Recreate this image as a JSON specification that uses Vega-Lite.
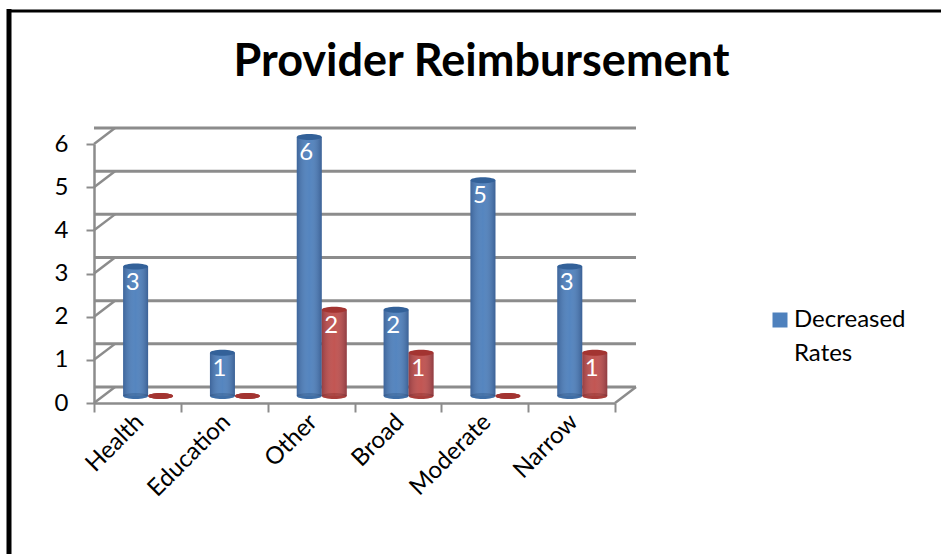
{
"$schema":"https://vega.github.io/schema/vega-lite/v6.json",
"autosize":{"type":"none"},
"padding":{"left":94,"top":144,"right":326,"bottom":151},
"width":521,"height":259,
"background":"white",
"title":{"text":"Provider Reimbursement","font":"Lato","fontSize":45,"fontWeight":"bold","color":"black","anchor":"middle","dx":127,"offset":-78},
"config":{"view":{"stroke":null},"style":{"guide-label":{"lineHeight":34}}},
"datasets":{
"bars":[
{"cat":"Health","series":"Decreased Rates","value":3},{"cat":"Health","series":"Increased Rates","value":0},
{"cat":"Education","series":"Decreased Rates","value":1},{"cat":"Education","series":"Increased Rates","value":0},
{"cat":"Other","series":"Decreased Rates","value":6},{"cat":"Other","series":"Increased Rates","value":2},
{"cat":"Broad","series":"Decreased Rates","value":2},{"cat":"Broad","series":"Increased Rates","value":1},
{"cat":"Moderate","series":"Decreased Rates","value":5},{"cat":"Moderate","series":"Increased Rates","value":0},
{"cat":"Narrow","series":"Decreased Rates","value":3},{"cat":"Narrow","series":"Increased Rates","value":1}],
"ticks":[{"tick":0},{"tick":1},{"tick":2},{"tick":3},{"tick":4},{"tick":5},{"tick":6}],
"frame":[{"part":"frame"}]
},
"encoding":{},
"layer":[
{"data":{"name":"ticks"},"mark":{"type":"rule","color":"#8c8c8c","strokeWidth":3,"xOffset":21,"yOffset":-16,"x2Offset":21,"y2Offset":-16},
 "encoding":{"y":{"field":"tick","type":"quantitative","scale":{"domain":[0,6],"nice":false},"axis":{"values":[0,1,2,3,4,5,6],"title":null,"grid":false,"domainColor":"#8c8c8c","domainWidth":2.5,"tickColor":"#8c8c8c","tickWidth":2,"tickSize":8,"labelFont":"Lato","labelFontSize":24,"labelColor":"black","labelPadding":18,"format":"d"}}}},
{"data":{"name":"ticks"},"mark":{"type":"point","shape":"M0,0L1,-0.76","size":1764,"filled":false,"stroke":"#8c8c8c","strokeWidth":2.5,"opacity":1},
 "encoding":{"x":{"datum":"Health","bandPosition":0},"y":{"field":"tick","type":"quantitative"}}},
{"data":{"values":[{"tick":0}]},"mark":{"type":"point","shape":"M0,0L1,-0.76","size":1764,"filled":false,"stroke":"#8c8c8c","strokeWidth":2.5,"opacity":1},
 "encoding":{"x":{"datum":"Narrow","bandPosition":1},"y":{"field":"tick","type":"quantitative"}}},
{"data":{"name":"bars"},"mark":{"type":"bar","yOffset":-7,"y2Offset":-7},
 "encoding":{
  "x":{"field":"cat","type":"nominal","sort":null,
   "scale":{"domain":["Health","Education","Other","Broad","Moderate","Narrow"],"paddingInner":0,"paddingOuter":0},
   "axis":{"title":null,"tickBand":"extent","labelAngle":-45,"labelAlign":"right","labelBaseline":"middle","labelFont":"Lato","labelFontSize":24,"labelColor":"black","labelPadding":6,"labelOffset":2,"domainColor":"#8c8c8c","domainWidth":2.5,"tickColor":"#8c8c8c","tickWidth":2,"tickSize":9}},
  "xOffset":{"field":"series","scale":{"domain":["Decreased Rates","Increased Rates"],"paddingOuter":0.737,"paddingInner":0,"align":0.79}},
  "y":{"field":"value","type":"quantitative"},
  "color":{"field":"series","type":"nominal","scale":{"domain":["Decreased Rates","Increased Rates"],"range":["#4f81bd","#c0504d"]},
   "legend":{"title":null,"orient":"none","legendX":674,"legendY":164,"values":["Decreased Rates"],"symbolType":"square","symbolSize":225,"symbolStrokeWidth":0,"labelOffset":2,"labelFont":"Lato","labelFontSize":24,"labelColor":"black","labelLimit":200,"labelExpr":"split(datum.label,' ')"}}}},
{"data":{"name":"bars"},"mark":{"type":"point","shape":"M-1,0A1,0.24 0 1,0 1,0A1,0.24 0 1,0 -1,0Z","size":625,"filled":true,"opacity":1,"yOffset":-7},
 "encoding":{"x":{"field":"cat","type":"nominal"},"xOffset":{"field":"series"},"y":{"datum":0,"type":"quantitative"},"color":{"field":"series","type":"nominal","scale":{"domain":["Decreased Rates","Increased Rates"],"range":["#3f6ea6","#a83e3b"]},"legend":null}}},
{"data":{"name":"bars"},"mark":{"type":"bar","yOffset":-7,"y2Offset":-7,"fill":{"x1":0,"x2":1,"y1":0,"y2":0,"gradient":"linear","stops":[{"offset":0,"color":"rgba(0,0,30,0.22)"},{"offset":0.5,"color":"rgba(255,255,255,0.03)"},{"offset":1,"color":"rgba(0,0,30,0.25)"}]}},
 "encoding":{"x":{"field":"cat","type":"nominal"},"xOffset":{"field":"series"},"y":{"field":"value","type":"quantitative"}}},
{"data":{"name":"bars"},"mark":{"type":"point","shape":"M-1,0A1,0.24 0 1,0 1,0A1,0.24 0 1,0 -1,0Z","size":625,"filled":true,"opacity":1,"yOffset":-7},
 "encoding":{"x":{"field":"cat","type":"nominal"},"xOffset":{"field":"series"},"y":{"field":"value","type":"quantitative"},
  "color":{"field":"series","type":"nominal","scale":{"domain":["Decreased Rates","Increased Rates"],"range":["#336199","#a33431"]},"legend":null}}},
{"data":{"name":"bars"},"transform":[{"filter":"datum.value>0"}],"mark":{"type":"text","color":"white","font":"Lato","fontSize":24,"yOffset":9,"dx":-3},
 "encoding":{"x":{"field":"cat","type":"nominal"},"xOffset":{"field":"series"},"y":{"field":"value","type":"quantitative"},"text":{"field":"value","type":"quantitative"}}},
{"data":{"name":"frame"},"mark":{"type":"rule","color":"black","strokeWidth":5,"clip":false},"encoding":{"x":{"value":-85},"y":{"value":-135},"y2":{"value":410}}},
{"data":{"name":"frame"},"mark":{"type":"rule","color":"black","strokeWidth":3,"clip":false},"encoding":{"y":{"value":-133},"x":{"value":-87},"x2":{"value":847}}}
],
"resolve":{"scale":{"color":"independent"}}
}
